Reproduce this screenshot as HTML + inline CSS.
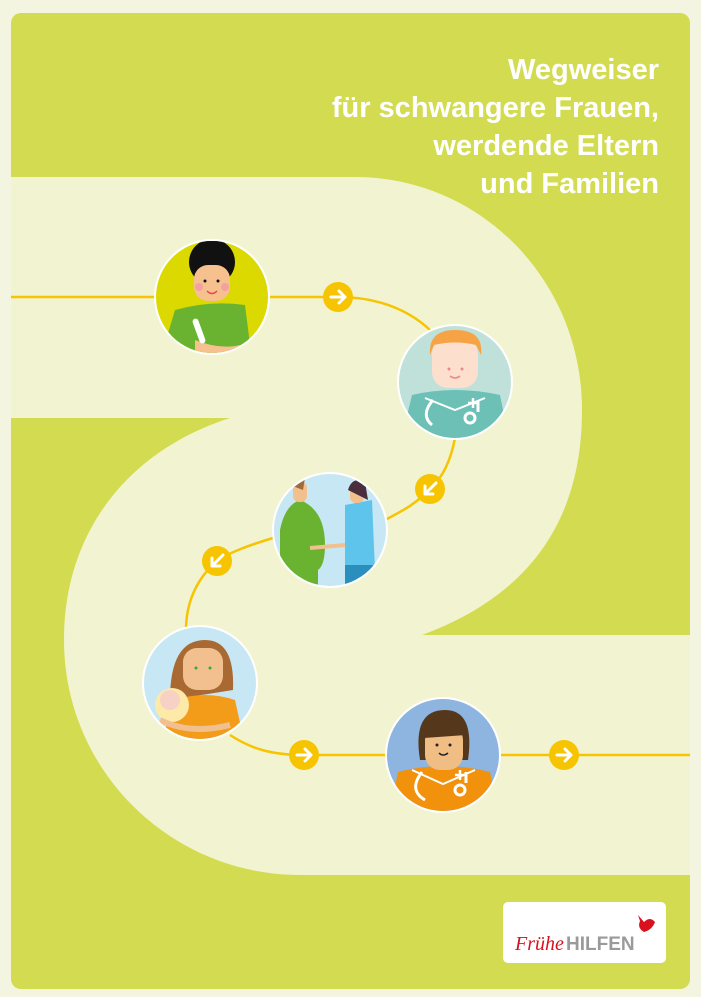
<!DOCTYPE html>
<html><head><meta charset="utf-8"><style>
html,body{margin:0;padding:0;background:#f3f5e1;}
svg{display:block;}
</style></head><body>
<svg width="701" height="997" viewBox="0 0 701 997" xmlns="http://www.w3.org/2000/svg">
<rect width="701" height="997" fill="#f3f5e1"/>
<rect x="11" y="13" width="679" height="976" rx="10" fill="#d3dc50"/>
<path d="M11,177 L355,177 C480,177 582,280 582,410 C582,520 530,595 422,635 L690,635 L690,875 L300,875 C170,875 64,770 64,640 C64,530 130,450 230,418 L11,418 Z" fill="#f2f4d1"/>
<!-- title -->
<g font-family="Liberation Sans, sans-serif" font-weight="bold" font-size="29" fill="#fff" text-anchor="end">
<text x="659" y="79">Wegweiser</text>
<text x="659" y="117">für schwangere Frauen,</text>
<text x="659" y="155">werdende Eltern</text>
<text x="659" y="193">und Familien</text>
</g>
<!-- connector -->
<path d="M11,297 L338,297 C385,297 415,315 432,332 M455,438 C450,465 440,480 430,489 C415,505 400,512 385,520 M273,538 C250,545 230,552 217,561 C195,580 186,605 186,630 M230,735 C250,748 270,755 304,755 L690,755" fill="none" stroke="#f6c400" stroke-width="2.5"/>
<!-- arrows -->
<g fill="#f6c400">
<circle cx="338" cy="297" r="15"/><circle cx="430" cy="489" r="15"/><circle cx="217" cy="561" r="15"/><circle cx="304" cy="755" r="15"/><circle cx="564" cy="755" r="15"/>
</g>
<g stroke="#fff" stroke-width="3" fill="none" stroke-linecap="round" stroke-linejoin="round">
<path d="M331,297 H345 M339,291 L345,297 L339,303"/>
<path d="M297,755 H311 M305,749 L311,755 L305,761"/>
<path d="M557,755 H571 M565,749 L571,755 L565,761"/>
<path d="M436,483 L425,494 M425,486 V494 H433"/>
<path d="M223,555 L212,566 M212,558 V566 H220"/>
</g>
<defs>
<clipPath id="c1"><circle cx="212" cy="297" r="56"/></clipPath>
<clipPath id="c2"><circle cx="455" cy="382" r="56"/></clipPath>
<clipPath id="c3"><circle cx="330" cy="530" r="56"/></clipPath>
<clipPath id="c4"><circle cx="200" cy="683" r="56"/></clipPath>
<clipPath id="c5"><circle cx="443" cy="755" r="56"/></clipPath>
</defs>
<!-- 1 -->
<circle cx="212" cy="297" r="58" fill="#fff"/>
<g clip-path="url(#c1)">
<rect x="150" y="235" width="130" height="130" fill="#dcd900"/>
<path d="M160,360 L175,310 Q210,300 245,305 L252,360 Z" fill="#69b330"/>
<circle cx="212" cy="262" r="23" fill="#111"/><circle cx="212" cy="245" r="10" fill="#111"/>
<rect x="194" y="265" width="36" height="36" rx="14" fill="#f6c18f"/>
<circle cx="199" cy="287" r="4" fill="#f3a0a0"/><circle cx="225" cy="287" r="4" fill="#f3a0a0"/>
<circle cx="205" cy="281" r="1.5" fill="#111"/><circle cx="218" cy="281" r="1.5" fill="#111"/>
<path d="M207,291 Q212,296 217,291" stroke="#e44" stroke-width="1.5" fill="none"/>
<path d="M195,340 Q220,350 240,345 L240,358 L195,352 Z" fill="#f6c18f"/>
<rect x="196" y="318" width="6" height="26" rx="3" fill="#fff" transform="rotate(-20 199 331)"/>
</g>
<!-- 2 -->
<circle cx="455" cy="382" r="58" fill="#fff"/>
<g clip-path="url(#c2)">
<rect x="395" y="322" width="120" height="120" fill="#bfe1da"/>
<path d="M400,445 L412,395 Q455,385 500,395 L510,445 Z" fill="#6cc0b5"/>
<path d="M425,398 L455,410 L485,398" stroke="#fff" stroke-width="2" fill="none"/>
<rect x="432" y="338" width="46" height="50" rx="16" fill="#fce0cd"/>
<path d="M430,355 Q428,330 455,330 Q484,330 481,355 L476,345 Q455,340 434,345 Z" fill="#f6a346"/>
<circle cx="449" cy="369" r="1.5" fill="#e88"/><circle cx="462" cy="369" r="1.5" fill="#e88"/>
<path d="M450,376 Q455,380 460,376" stroke="#e88" stroke-width="1.5" fill="none"/>
<path d="M433,400 Q420,415 432,425 M478,400 L478,412" stroke="#fff" stroke-width="3" fill="none"/>
<circle cx="470" cy="418" r="5" stroke="#fff" stroke-width="3" fill="none"/>
<path d="M468,403 H478 M473,398 V408" stroke="#fff" stroke-width="2.5"/>
</g>
<!-- 3 -->
<circle cx="330" cy="530" r="58" fill="#fff"/>
<g clip-path="url(#c3)">
<rect x="270" y="470" width="120" height="120" fill="#c8e7f4"/>
<path d="M280,530 Q285,505 300,500 Q325,510 325,545 Q325,565 318,570 L318,590 L280,590 Z" fill="#69b330"/>
<rect x="293" y="482" width="14" height="20" rx="6" fill="#f2c08f"/>
<path d="M290,485 Q295,475 305,478 L303,490 Z" fill="#a06a3a"/>
<path d="M345,505 L372,500 L375,570 L345,570 Z" fill="#5fc4ec"/>
<rect x="345" y="565" width="28" height="30" fill="#2a8fbd"/>
<rect x="350" y="483" width="14" height="20" rx="6" fill="#f2c08f"/>
<path d="M348,490 Q352,476 365,482 L368,500 Z" fill="#4a2e3c"/>
<path d="M310,548 L345,545" stroke="#f2c08f" stroke-width="4"/>
</g>
<!-- 4 -->
<circle cx="200" cy="683" r="58" fill="#fff"/>
<g clip-path="url(#c4)">
<rect x="140" y="623" width="120" height="120" fill="#c8e7f4"/>
<path d="M170,700 Q170,640 205,640 Q235,640 233,690 Z" fill="#a86a32"/>
<path d="M160,745 L175,700 Q205,690 235,700 L245,745 Z" fill="#f39c1a"/>
<rect x="183" y="648" width="40" height="42" rx="14" fill="#f2c08f"/>
<circle cx="196" cy="668" r="1.5" fill="#3a3"/><circle cx="210" cy="668" r="1.5" fill="#3a3"/>
<circle cx="172" cy="705" r="17" fill="#fde9a8"/><circle cx="170" cy="700" r="10" fill="#f7d1c6"/>
<path d="M160,720 Q190,735 230,725" stroke="#f2c08f" stroke-width="6" fill="none"/>
</g>
<!-- 5 -->
<circle cx="443" cy="755" r="58" fill="#fff"/>
<g clip-path="url(#c5)">
<rect x="383" y="695" width="120" height="120" fill="#8db5e0"/>
<path d="M420,760 Q412,710 445,710 Q475,710 468,760 Z" fill="#55371c"/>
<path d="M388,820 L398,772 Q443,760 490,772 L500,820 Z" fill="#f2910b"/>
<path d="M412,770 L443,784 L475,770" stroke="#fff" stroke-width="2" fill="none"/>
<rect x="425" y="725" width="38" height="45" rx="15" fill="#f0bd84"/>
<path d="M424,738 Q428,715 460,720 L466,735 Z" fill="#55371c"/>
<circle cx="437" cy="745" r="1.5" fill="#222"/><circle cx="450" cy="745" r="1.5" fill="#222"/>
<path d="M439,753 Q443,757 448,753" stroke="#222" stroke-width="1.5" fill="none"/>
<path d="M422,772 Q408,790 425,800 M466,772 L466,783" stroke="#fff" stroke-width="3" fill="none"/>
<circle cx="460" cy="790" r="5" stroke="#fff" stroke-width="3" fill="none"/>
<path d="M455,775 H465 M460,770 V780" stroke="#fff" stroke-width="2.5"/>
</g>
<!-- logo -->
<rect x="503" y="902" width="163" height="61" rx="5" fill="#fff"/>
<text x="515" y="950" font-family="Liberation Serif, serif" font-style="italic" font-size="20" fill="#d9101e">Frühe</text>
<text x="566" y="950" font-family="Liberation Sans, sans-serif" font-weight="bold" font-size="19" fill="#9a9a9a">HILFEN</text>
<path d="M638,915 L644,922 Q650,916 655,922 Q652,930 644,932 Q637,928 640,921 Z" fill="#d9101e"/>
</svg>
</body></html>
